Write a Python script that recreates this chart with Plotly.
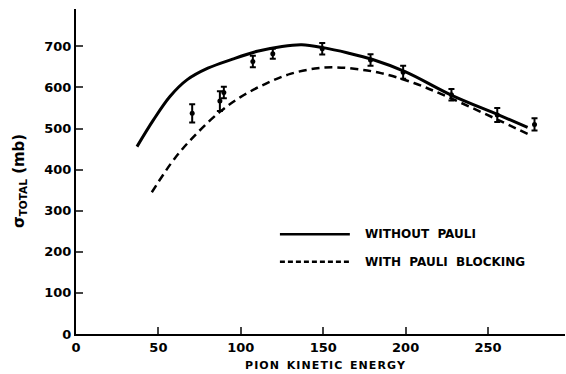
import plotly.graph_objects as go

# Curves (pion kinetic energy in MeV, sigma total in mb)
solid_x = [37, 47, 57, 67.5, 80, 95, 110, 125, 137, 150, 165, 180, 200, 228, 256, 274]
solid_y = [456, 521, 578, 619, 647, 669, 688, 700, 704, 697, 684, 668, 638, 581, 534, 503]
dash_x = [46, 60, 73.5, 87.7, 100, 115, 130, 145, 157, 170, 185, 205, 225, 253.5, 274]
dash_y = [345, 428, 489, 542, 577, 609, 633, 646, 649, 645, 635, 611, 578, 526, 487]

# Data points with errors
pt_x = [70.5, 87.3, 89.7, 107.3, 119.4, 149.4, 178.7, 198.5, 227.8, 255.6, 278.2]
pt_y = [537, 567, 588, 663, 682, 694, 667, 637, 582, 533, 510]
pt_err = [22, 24, 14, 14, 12, 14, 14, 16, 14, 17, 15]

x_ticks = [0, 50, 100, 150, 200, 250]
y_ticks = [0, 100, 200, 300, 400, 500, 600, 700]

FONT = "DejaVu Sans"
HS = "\u200a"

fig = go.Figure()
fig.add_trace(go.Scatter(x=solid_x, y=solid_y, mode="lines", line=dict(color="black", width=3, shape="spline", smoothing=1.0),
                         name="WITHOUT PAULI"))
fig.add_trace(go.Scatter(x=dash_x, y=dash_y, mode="lines",
                         line=dict(color="black", width=2.5, dash="8px,5px", shape="spline", smoothing=1.0),
                         name="WITH PAULI BLOCKING"))
fig.add_trace(go.Scatter(x=pt_x, y=pt_y, mode="markers",
                         marker=dict(color="black", size=5),
                         error_y=dict(type="data", array=pt_err, color="black", thickness=2, width=3)))

fig.update_layout(
    width=566, height=374,
    margin=dict(l=76, r=1, t=9, b=40),
    paper_bgcolor="white", plot_bgcolor="white",
    showlegend=False,
    font=dict(family=FONT, size=13, color="black", weight="bold"),
)
fig.update_xaxes(range=[0, 296.7], tickvals=x_ticks, ticks="inside", ticklen=7, tickwidth=2,
                 showline=True, linecolor="black", linewidth=2, showgrid=False, zeroline=False,
                 tickfont=dict(family=FONT, size=13, weight="bold"))
fig.update_yaxes(range=[0, 791], tickvals=y_ticks, ticks="inside", ticklen=7, tickwidth=2,
                 showline=True, linecolor="black", linewidth=2, showgrid=False, zeroline=False,
                 tickfont=dict(family=FONT, size=13, weight="bold"))

xtitle = HS.join(list("PION")) + "  " + HS.join(list("KINETIC")) + "  " + HS.join(list("ENERGY"))
fig.add_annotation(text=xtitle, xref="paper", yref="paper",
                   x=0.511, y=-0.098, showarrow=False, xanchor="center", yanchor="middle",
                   font=dict(family=FONT, size=11, weight="bold"))
fig.add_annotation(text="σ<sub>TOTAL</sub> (mb)", xref="paper", yref="paper",
                   x=-0.117, y=0.47, showarrow=False, textangle=-90, xanchor="center", yanchor="middle",
                   font=dict(family=FONT, size=15, weight="bold"))

# Legend
fig.add_shape(type="line", xref="paper", yref="paper", x0=0.417, x1=0.560, y0=0.307, y1=0.307,
              line=dict(color="black", width=2.5))
fig.add_shape(type="line", xref="paper", yref="paper", x0=0.417, x1=0.560, y0=0.222, y1=0.222,
              line=dict(color="black", width=2.5, dash="5px,3px"))
fig.add_annotation(text="WITHOUT  PAULI", xref="paper", yref="paper", x=0.587, y=0.307,
                   showarrow=False, xanchor="left", yanchor="middle",
                   font=dict(family=FONT, size=12, weight="bold"))
fig.add_annotation(text="WITH  PAULI  BLOCKING", xref="paper", yref="paper", x=0.587, y=0.222,
                   showarrow=False, xanchor="left", yanchor="middle",
                   font=dict(family=FONT, size=12, weight="bold"))

fig.write_html("out.html")
